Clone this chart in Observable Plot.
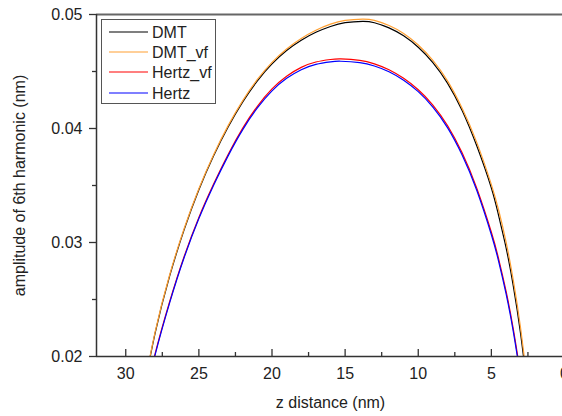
<!DOCTYPE html>
<html>
<head>
<meta charset="utf-8">
<script src="https://cdn.jsdelivr.net/npm/d3@7"></script>
<script src="https://cdn.jsdelivr.net/npm/@observablehq/plot@0.6"></script>
<style>
  html, body { margin: 0; padding: 0; background: #fff; overflow: hidden; }
  #wrap { position: relative; width: 562px; height: 416px; overflow: hidden; }
  #wrap > svg { max-width: none !important; position: absolute; left: 0; top: 0; }
  #legend { position: absolute; left: 101px; top: 19px; width: 115px; height: 85px;
            border: 1px solid #555; background: #fff; box-sizing: border-box; }
  #legend svg { display: block; }
  svg text { font-family: "Liberation Sans", Arial, sans-serif; }
</style>
</head>
<body>
<div id="wrap"><div id="legend"></div></div>
<script>
// ---- data ----
const seriesNames  = ["DMT", "DMT_vf", "Hertz_vf", "Hertz"];
const seriesColors = ["#000000", "#ffa033", "#ff0000", "#0000ff"];

const zDMT     = [29, 28, 27, 26, 25, 24, 23, 22, 21, 20, 19, 18, 17, 16, 15, 13.8, 13, 12, 11, 10, 9, 8, 7, 6, 5, 4.5, 4, 3.5, 3, 2.5];
const ampDMTvf = [0.0156, 0.0221, 0.02715, 0.03125, 0.03472, 0.03768, 0.04025, 0.04245, 0.0443, 0.0458, 0.04698, 0.0479, 0.04862, 0.04915, 0.04948, 0.0496, 0.04948, 0.04903, 0.04833, 0.04733, 0.04598, 0.04418, 0.04178, 0.03878, 0.03508, 0.03283, 0.03008, 0.02668, 0.02248, 0.01723];
const ampDMT   = [0.0155, 0.0220, 0.02705, 0.03115, 0.03462, 0.03758, 0.04013, 0.04233, 0.04418, 0.04567, 0.04684, 0.04774, 0.04844, 0.04895, 0.04928, 0.0494, 0.04928, 0.04883, 0.04813, 0.04713, 0.04578, 0.04398, 0.04158, 0.03848, 0.03478, 0.03233, 0.02958, 0.02618, 0.02198, 0.01673];

const zHertz     = [28.5, 28, 27, 26, 25, 24, 23, 22, 21, 20, 19, 18, 17, 16, 15.3, 14, 13, 12, 11, 10, 9, 8, 7, 6, 5, 4.5, 4, 3.5, 3, 2.7];
const ampHertz   = [0.0172, 0.0201, 0.0247, 0.0287, 0.0321, 0.0350, 0.0376, 0.0399, 0.0418, 0.0433, 0.0444, 0.04516, 0.04563, 0.04585, 0.0459, 0.04578, 0.04548, 0.04498, 0.04423, 0.04323, 0.04188, 0.04008, 0.03768, 0.03458, 0.03068, 0.02833, 0.02553, 0.02218, 0.01813, 0.0155];
const ampHertzvf = [0.0173, 0.0202, 0.0248, 0.0288, 0.0322, 0.0351, 0.03772, 0.04003, 0.04195, 0.04347, 0.04458, 0.04536, 0.04583, 0.04605, 0.0461, 0.04598, 0.04567, 0.04516, 0.0444, 0.0434, 0.04206, 0.04026, 0.03787, 0.03477, 0.0309, 0.02855, 0.02575, 0.0224, 0.01835, 0.0157];

const xMajor = [0, 5, 10, 15, 20, 25, 30];
const xMinor = [2.5, 7.5, 12.5, 17.5, 22.5, 27.5];
const yMajor = [0.02, 0.03, 0.04, 0.05];
const yMinor = [0.025, 0.035, 0.045];
const xDomain = [32, 0];
const yDomain = [0.02, 0.05];
const xTitle = "z distance (nm)";
const yTitle = "amplitude of 6th harmonic (nm)";

// ---- build table ----
const rows = [];
const addSeries = (name, zs, amps) => zs.forEach((z, i) => rows.push({series: name, z, amp: amps[i]}));
addSeries("DMT", zDMT, ampDMT);
addSeries("DMT_vf", zDMT, ampDMTvf);
addSeries("Hertz_vf", zHertz, ampHertzvf);
addSeries("Hertz", zHertz, ampHertz);

const W = 570, H = 416, mL = 96, mR = 6, mT = 14, mB = 60;
const frameH = H - mT - mB;
const font = 16;

const chart = Plot.plot({
  width: W, height: H,
  marginLeft: mL, marginRight: mR, marginTop: mT, marginBottom: mB,
  style: {fontFamily: '"Liberation Sans", Arial, sans-serif', fontSize: font + "px", color: "#222", background: "white"},
  x: {domain: xDomain, axis: null},
  y: {domain: yDomain, axis: null},
  color: {domain: seriesNames, range: seriesColors},
  marks: [
    Plot.line(rows, {x: "z", y: "amp", z: "series", stroke: "series", strokeWidth: 1.2, curve: "natural", clip: true}),
    // frame lines
    Plot.ruleY([yDomain[1]], {stroke: "#666", strokeWidth: 2}),
    Plot.ruleY([yDomain[0]], {stroke: "#333", strokeWidth: 1.5}),
    Plot.ruleX([xDomain[0]], {stroke: "#333", strokeWidth: 1.5}),
    // x ticks (inward)
    Plot.ruleX(xMajor, {stroke: "#333", strokeWidth: 1.3, insetTop: frameH - 7}),
    Plot.ruleX(xMinor, {stroke: "#333", strokeWidth: 1.3, insetTop: frameH - 4}),
    Plot.axisX({ticks: xMajor, tickSize: 0, tickPadding: 11, fontSize: font, label: null, tickFormat: d => String(d)}),
    // y ticks (outward)
    Plot.axisY({ticks: yMajor, tickSize: 7, tickPadding: 7, fontSize: font, label: null, tickFormat: d => d.toFixed(2), stroke: "#333", strokeWidth: 1.3}),
    Plot.axisY({ticks: yMinor, tickSize: 4, label: null, tickFormat: () => "", stroke: "#333", strokeWidth: 1.3}),
    // axis titles
    Plot.text([xTitle], {frameAnchor: "bottom", dy: 46, text: d => d, fontSize: font, fill: "#222", lineAnchor: "middle", textAnchor: "middle"}),
    Plot.text([yTitle], {frameAnchor: "left", dx: -77, rotate: -90, text: d => d, fontSize: font, fill: "#222", lineAnchor: "middle", textAnchor: "middle"})
  ]
});
document.getElementById("wrap").prepend(chart);

// ---- legend ----
const rowY = [12, 32, 52, 73];
const ns = "http://www.w3.org/2000/svg";
const lsvg = document.createElementNS(ns, "svg");
lsvg.setAttribute("width", 113); lsvg.setAttribute("height", 83);
seriesNames.forEach((name, i) => {
  const ln = document.createElementNS(ns, "line");
  ln.setAttribute("x1", 7); ln.setAttribute("x2", 46);
  ln.setAttribute("y1", rowY[i]); ln.setAttribute("y2", rowY[i]);
  ln.setAttribute("stroke", seriesColors[i]); ln.setAttribute("stroke-width", 1.2);
  lsvg.appendChild(ln);
  const t = document.createElementNS(ns, "text");
  t.setAttribute("x", 50); t.setAttribute("y", rowY[i]);
  t.setAttribute("dy", "0.35em");
  t.setAttribute("font-size", font);
  t.setAttribute("fill", "#222");
  t.textContent = name;
  lsvg.appendChild(t);
});
document.getElementById("legend").appendChild(lsvg);
</script>
</body>
</html>
